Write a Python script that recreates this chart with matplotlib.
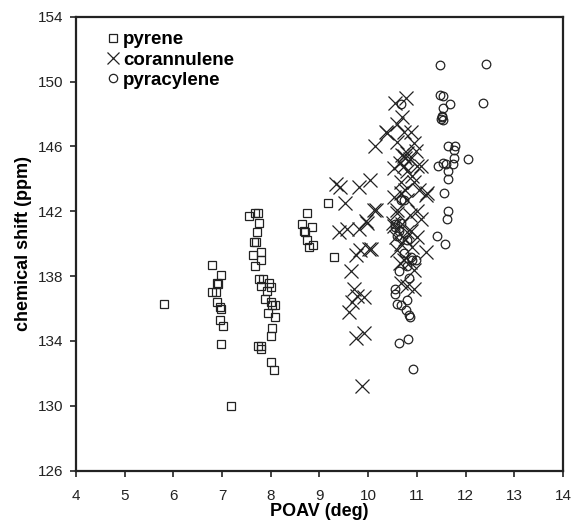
import matplotlib
matplotlib.use("Agg")
import matplotlib.pyplot as plt
from matplotlib.lines import Line2D

plt.rcParams['font.family'] = ['Liberation Sans', 'DejaVu Sans']

pyrene_x = [5.80, 6.79, 6.98, 6.89, 6.91, 6.79, 6.88, 6.89, 6.96, 6.97, 6.96, 7.01, 6.98, 7.18,
            7.55, 7.68, 7.73, 7.75, 7.72, 7.70, 7.66, 7.79, 7.63, 7.79, 7.68, 7.75, 7.85, 7.79,
            7.96, 8.00, 7.92, 7.89, 8.00, 8.09, 8.03, 7.94, 8.09, 8.03, 8.00, 7.73, 7.80, 7.79,
            8.00, 8.06,
            9.17, 8.75, 8.64, 8.85, 8.68, 8.71, 8.75, 8.78, 8.86, 9.29]
pyrene_y = [136.3, 138.7, 138.1, 137.6, 137.5, 137.0, 137.0, 136.4, 136.1, 136.0, 135.3, 134.9, 133.8, 130.0,
            141.7, 141.9, 141.9, 141.3, 140.7, 140.1, 140.1, 139.5, 139.3, 139.0, 138.6, 137.8, 137.8, 137.4,
            137.6, 137.3, 137.1, 136.6, 136.4, 136.2, 136.2, 135.7, 135.5, 134.8, 134.3, 133.7, 133.7, 133.5,
            132.7, 132.2,
            142.5, 141.9, 141.2, 141.0, 140.8, 140.7, 140.2, 139.8, 139.9, 139.2]

corannulene_x = [9.33, 9.43, 9.81, 10.04, 9.53, 10.17, 9.40, 9.57, 9.81, 9.98, 9.74, 9.84, 10.05,
                 9.64, 9.71, 9.78, 9.67, 9.60, 9.74, 9.91, 9.88,
                 10.56, 10.77, 10.60, 10.70, 10.39, 10.73, 10.36, 10.15, 10.94, 10.60, 10.87, 10.80,
                 10.98, 10.73, 10.76, 10.70, 10.53, 10.73, 11.01, 10.80, 11.08, 10.67, 10.94, 11.21,
                 10.53, 10.80, 10.60, 11.01, 10.53, 10.87, 11.08, 10.67, 11.01, 11.18, 10.60, 10.73,
                 10.67, 10.94, 10.67, 11.18, 10.12, 9.95, 10.50, 10.80, 10.01, 10.94, 10.80, 9.91,
                 10.60, 10.65, 10.85, 10.90, 10.75, 10.85, 10.70, 10.90, 10.85, 10.65, 10.75, 11.05,
                 10.58]
corannulene_y = [143.7, 143.5, 143.5, 143.9, 142.5, 142.1, 140.7, 140.9, 140.9, 141.3, 139.3, 139.6, 139.7,
                 138.3, 137.2, 136.8, 136.4, 135.8, 134.2, 134.5, 131.2,
                 148.7, 149.0, 147.4, 147.8, 146.8, 146.9, 146.9, 146.0, 146.2, 146.3, 146.9, 145.6,
                 145.7, 145.4, 145.3, 145.5, 144.7, 144.8, 144.8, 144.5, 144.8, 143.8, 143.8, 143.1,
                 142.9, 142.7, 141.9, 142.0, 141.1, 140.8, 141.5, 140.0, 140.4, 139.5, 139.6, 139.0,
                 137.6, 137.2, 143.1, 143.0, 142.1, 141.4, 141.3, 140.7, 139.7, 138.4, 137.4, 136.7,
                 142.1, 145.0, 145.2, 144.2, 143.3, 141.8, 141.2, 139.8, 138.9, 138.8, 140.3, 143.3,
                 140.4]

pyracylene_x = [11.48, 12.42, 12.35, 11.48, 11.53, 11.68, 11.53, 11.51, 11.53, 11.50, 11.52,
                11.64, 11.78, 11.77, 12.04, 11.77, 11.53, 11.44, 11.59, 11.74, 11.64, 11.64,
                11.56, 11.64, 11.61, 11.41, 11.57,
                10.56, 10.60, 10.73, 10.80, 10.90, 10.63, 10.56, 10.60, 10.80, 10.77, 10.84,
                10.98, 10.56, 10.68, 10.86, 10.63, 10.82, 10.93, 10.56, 10.67, 10.63, 10.80,
                10.87, 10.84, 10.67, 10.67, 10.73]
pyracylene_y = [151.0, 151.1, 148.7, 149.2, 149.1, 148.6, 148.4, 147.8, 147.6, 147.7, 147.9,
                146.0, 146.0, 145.8, 145.2, 145.3, 145.0, 144.8, 144.9, 144.9, 144.5, 144.0,
                143.1, 142.0, 141.5, 140.5, 140.0,
                141.0, 140.5, 139.4, 138.6, 139.0, 138.3, 137.2, 136.3, 136.5, 135.9, 135.6,
                139.0, 136.9, 136.2, 135.5, 133.9, 134.1, 132.3, 141.2, 141.3, 140.8, 140.2,
                139.2, 137.9, 148.6, 142.7, 142.7]

x_ticks = [4, 5, 6, 7, 8, 9, 10, 11, 12, 13, 14]
y_ticks = [126, 130, 134, 138, 142, 146, 150, 154]

ec = '#222222'
fig = plt.figure(figsize=(5.74, 5.27), dpi=100)
ax = fig.add_axes([0.1324, 0.1068, 0.8484, 0.8615])

ax.plot(pyrene_x, pyrene_y, ls='none', marker='s', ms=6.2, mfc='none', mec=ec, mew=0.9)
ax.plot(corannulene_x, corannulene_y, ls='none', marker='x', ms=9.5, mec=ec, mew=0.9)
ax.plot(pyracylene_x, pyracylene_y, ls='none', marker='o', ms=6.2, mfc='none', mec=ec, mew=0.9)

ax.set_xlim(4, 14)
ax.set_ylim(126, 154)
ax.set_xticks(x_ticks)
ax.set_yticks(y_ticks)
ax.tick_params(direction='out', length=4, width=1.2, labelsize=11, colors='#222222', pad=5)
ax.tick_params(axis='x', pad=9)
for s in ax.spines.values():
    s.set_linewidth(1.6)
    s.set_color('#222222')

ax.set_xlabel('POAV (deg)', fontsize=13, fontweight='bold', labelpad=0)
ax.set_ylabel('chemical shift (ppm)', fontsize=13, fontweight='bold', labelpad=4)

handles = [
    Line2D([], [], ls='none', marker='s', ms=6, mfc='none', mec=ec, mew=0.9),
    Line2D([], [], ls='none', marker='x', ms=9, mec=ec, mew=0.9),
    Line2D([], [], ls='none', marker='o', ms=6, mfc='none', mec=ec, mew=0.9),
]
ax.legend(handles, ['pyrene', 'corannulene', 'pyracylene'], loc='upper left', frameon=False,
          prop={'weight': 'bold', 'size': 13.5}, handlelength=0.7, handletextpad=0.2,
          labelspacing=0.17, borderaxespad=0.3, bbox_to_anchor=(0.035, 0.997))

fig.savefig('out.png', dpi=100)
